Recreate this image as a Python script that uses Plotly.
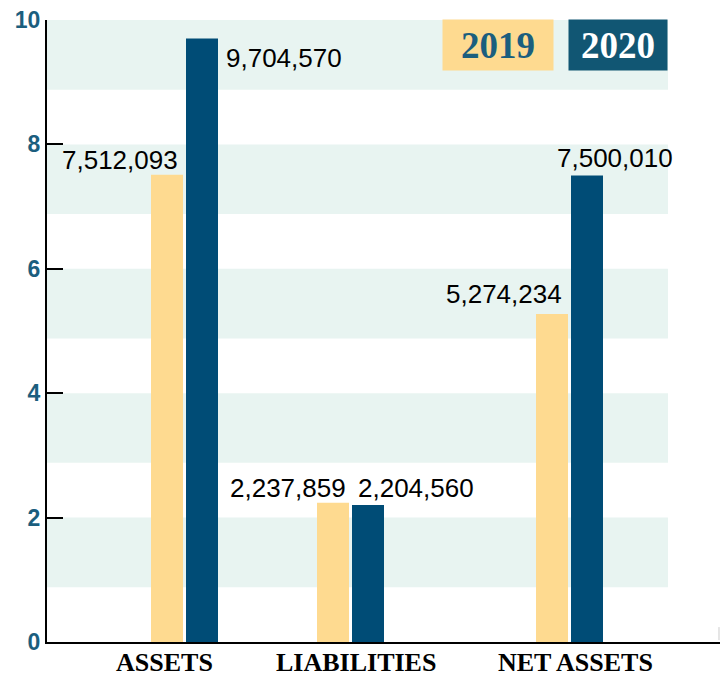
import plotly.graph_objects as go

# data (values in dollars, axis shows millions)
categories = ["ASSETS", "LIABILITIES", "NET ASSETS"]
values_2019 = [7512093, 2237859, 5274234]
values_2020 = [9704570, 2204560, 7500010]
series_names = ["2019", "2020"]
y_ticks = [0, 2, 4, 6, 8, 10]

# layout helpers (x axis in pixel-like units, plot spans 47..720)
group_x = [184.5, 350.5, 569.5]
label_x = [164.5, 355.5, 575.5]
# value label nudges: (xshift, yshift) per bar
shift_2019 = [(-47, 15), (-45, 15), (-48, 20)]
shift_2020 = [(82, -20), (48, 17), (28, 18)]

YELLOW = "#FEDA90"
BLUE = "#004C76"
TEAL = "#1B5E7E"
BAND = "#E8F4F1"
SERIF = "Liberation Serif, Times New Roman"
SANS = "Liberation Sans, Arial"

fig = go.Figure()
fig.add_trace(go.Bar(x=group_x, y=[v / 1e6 for v in values_2019], name=series_names[0],
                     width=32, offset=-33.5, marker=dict(color=YELLOW, line=dict(width=0)),
                     hoverinfo="skip"))
fig.add_trace(go.Bar(x=group_x, y=[v / 1e6 for v in values_2020], name=series_names[1],
                     width=32, offset=1.5, marker=dict(color=BLUE, line=dict(width=0)),
                     hoverinfo="skip"))

annotations = []
for vals, shifts, sign in [(values_2019, shift_2019, -1), (values_2020, shift_2020, 1)]:
    for gx, v, (dx, dy) in zip(group_x, vals, shifts):
        annotations.append(dict(
            x=gx + sign * 17.5, y=v / 1e6, xref="x", yref="y",
            text=f"{v:,}", showarrow=False, xanchor="center", yanchor="middle",
            xshift=dx, yshift=dy,
            font=dict(family=SANS, size=26, color="black")))

# category labels under the axis
for lx, cat in zip(label_x, categories):
    annotations.append(dict(x=lx, y=0, xref="x", yref="y", text=cat, showarrow=False,
                            xanchor="center", yanchor="top", yshift=-5, borderpad=0,
                            font=dict(family=SERIF, size=26, color="black", weight="bold")))

# legend boxes
annotations.append(dict(x=0.670, y=0.96, xref="paper", yref="paper", text="2019",
                        xanchor="center", yanchor="middle",
                        showarrow=False, bgcolor=YELLOW, width=108, height=48,
                        font=dict(family=SERIF, size=37, color=TEAL, weight="bold")))
annotations.append(dict(x=0.8484, y=0.96, xref="paper", yref="paper", text="2020",
                        xanchor="center", yanchor="middle",
                        showarrow=False, bgcolor="#115673", width=96, height=48,
                        font=dict(family=SERIF, size=37, color="white", weight="bold")))

shapes = []
for t in y_ticks[1:]:
    shapes.append(dict(type="rect", xref="paper", yref="y", x0=0, x1=0.9227,
                       y0=t - 1.12, y1=t, fillcolor=BAND, line=dict(width=0), layer="below"))
shapes.append(dict(type="line", xref="paper", yref="y", x0=0.9985, x1=0.9985, y0=0.03, y1=0.24,
                   line=dict(color="#CCCCCC", width=1)))

fig.update_layout(
    width=720, height=673,
    margin=dict(l=47, r=0, t=20, b=31, autoexpand=False),
    plot_bgcolor="white", paper_bgcolor="white",
    barmode="overlay", showlegend=False,
    annotations=annotations, shapes=shapes,
    xaxis=dict(range=[47, 720], showgrid=False, zeroline=False, automargin=False,
               showline=True, linecolor="black", linewidth=2,
               showticklabels=False, ticks=""),
    yaxis=dict(range=[0, 10], tickvals=y_ticks, showgrid=False, zeroline=False,
               automargin=False,
               showline=True, linecolor="black", linewidth=2,
               ticks="inside", ticklen=16, tickwidth=2, tickcolor="black",
               tickfont=dict(family=SANS, size=23, color=TEAL, weight="bold")),
)

# drop the default 8px body margin so the figure fills the window
fig.write_html("out.html", config={"displayModeBar": False},
               post_script="document.body.style.margin='0';")
